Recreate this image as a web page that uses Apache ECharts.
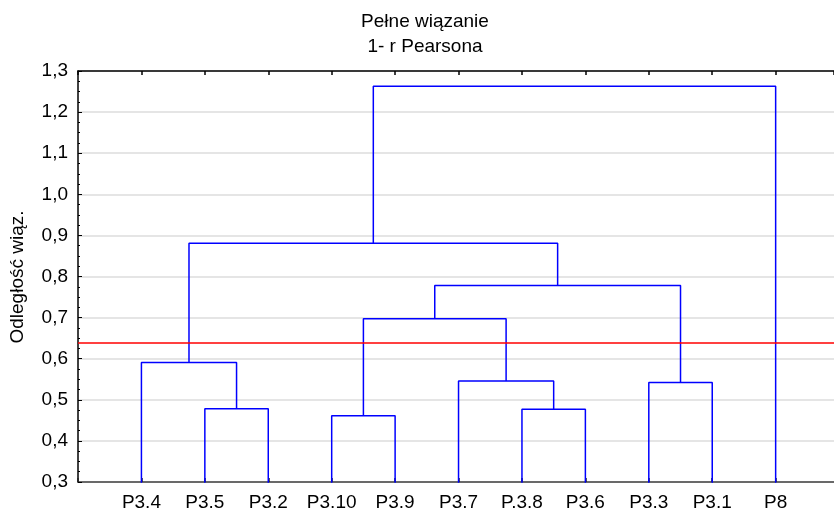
<!DOCTYPE html>
<html>
<head>
<meta charset="utf-8">
<script src="https://cdn.jsdelivr.net/npm/echarts@6/dist/echarts.min.js"></script>
<style>
  html, body { margin: 0; padding: 0; background: #fff; }
  #chart { width: 834px; height: 509px; }
</style>
</head>
<body>
<div id="chart"></div>
<script>
// Leaf order along the horizontal axis
const leaves = ['P3.4', 'P3.5', 'P3.2', 'P3.10', 'P3.9', 'P3.7', 'P.3.8', 'P3.6', 'P3.3', 'P3.1', 'P8'];

// Agglomeration steps: node ids 0..10 are leaves, each step creates node 11, 12, ...
const mergeA      = [1, 0, 3, 6, 5, 13, 8, 16, 12, 19];
const mergeB      = [2, 11, 4, 7, 14, 15, 9, 17, 18, 10];
const mergeHeight = [0.478, 0.591, 0.461, 0.477, 0.546, 0.697, 0.542, 0.778, 0.881, 1.263];

// Cut level drawn across the tree
const cutHeight = 0.6365;

// Vertical axis ticks
const yTicks = { min: 0.3, max: 1.3, step: 0.1 };

// Node positions: leaves sit at their index, clusters at the midpoint of their children
const nodeX = leaves.map((_, i) => i);
const nodeY = leaves.map(() => 0);
mergeA.forEach((a, k) => {
  nodeX.push((nodeX[a] + nodeX[mergeB[k]]) / 2);
  nodeY.push(mergeHeight[k]);
});

const linkColor = '#0000ff';
const links = mergeA.map((a, k) => {
  const b = mergeB[k], h = mergeHeight[k];
  return {
    type: 'line',
    data: [[nodeX[a], nodeY[a]], [nodeX[a], h], [nodeX[b], h], [nodeX[b], nodeY[b]]],
    symbol: 'none',
    silent: true,
    clip: true,
    animation: false,
    lineStyle: { color: linkColor, width: 1.5 }
  };
});

links.push({
  type: 'line',
  data: [],
  symbol: 'none',
  animation: false,
  markLine: {
    silent: true,
    symbol: 'none',
    label: { show: false },
    animation: false,
    lineStyle: { color: '#ff0000', width: 1.5, type: 'solid' },
    data: [{ yAxis: cutHeight }]
  }
});

const fontFamily = 'Arial, Liberation Sans, sans-serif';
const fontSize = 19;
const xMin = -1, xMax = 10.92;

const chart = echarts.init(document.getElementById('chart'), null, { renderer: 'canvas' });
chart.setOption({
  backgroundColor: '#ffffff',
  animation: false,
  grid: { left: 78, top: 71, right: 0, bottom: 27, containLabel: false, outerBoundsMode: 'none' },
  graphic: [
    {
      type: 'text', x: 425, y: 22,
      style: { text: 'Pełne wiązanie', fontSize: fontSize, fontFamily: fontFamily, fill: '#000',
               textAlign: 'center', textVerticalAlign: 'middle' }
    },
    {
      type: 'text', x: 425, y: 47,
      style: { text: '1- r Pearsona', fontSize: fontSize, fontFamily: fontFamily, fill: '#000',
               textAlign: 'center', textVerticalAlign: 'middle' }
    },
    {
      type: 'text', x: 18, y: 277, rotation: Math.PI / 2,
      style: { text: 'Odległość wiąz.', fontSize: fontSize, fontFamily: fontFamily, fill: '#000',
               textAlign: 'center', textVerticalAlign: 'middle' }
    }
  ],
  xAxis: [
    {
      type: 'value', position: 'bottom', min: xMin, max: xMax, interval: 1,
      axisLine: { show: true, onZero: false, lineStyle: { color: '#404040', width: 1.5 } },
      axisTick: { show: true, inside: true, length: 4, lineStyle: { color: '#202020', width: 1.5 } },
      axisLabel: {
        show: true, margin: 11, color: '#000', fontSize: fontSize, fontFamily: fontFamily,
        showMinLabel: true, showMaxLabel: false,
        formatter: v => {
          const i = Math.round(v);
          return (Math.abs(v - i) < 1e-6 && i >= 0 && i < leaves.length) ? leaves[i] : '';
        }
      },
      splitLine: { show: false }
    },
    {
      type: 'value', position: 'top', min: xMin, max: xMax, interval: 1,
      axisLine: { show: true, onZero: false, lineStyle: { color: '#000', width: 1.5 } },
      axisTick: { show: true, inside: true, length: 4, lineStyle: { color: '#000', width: 1.5 } },
      axisLabel: { show: false },
      splitLine: { show: false }
    }
  ],
  yAxis: {
    type: 'value', min: yTicks.min, max: yTicks.max, interval: yTicks.step,
    axisLine: { show: true, onZero: false, lineStyle: { color: '#000', width: 1.5 } },
    axisTick: { show: true, inside: true, length: 4, lineStyle: { color: '#000' } },
    minorTick: { show: true, splitNumber: 4, length: 2, lineStyle: { color: '#000' } },
    axisLabel: {
      color: '#000', fontSize: fontSize, fontFamily: fontFamily, margin: 10,
      formatter: v => v.toFixed(1).replace('.', ',')
    },
    splitLine: { show: true, lineStyle: { color: '#dcdcdc', width: 1.5 } }
  },
  series: links
});
</script>
</body>
</html>
